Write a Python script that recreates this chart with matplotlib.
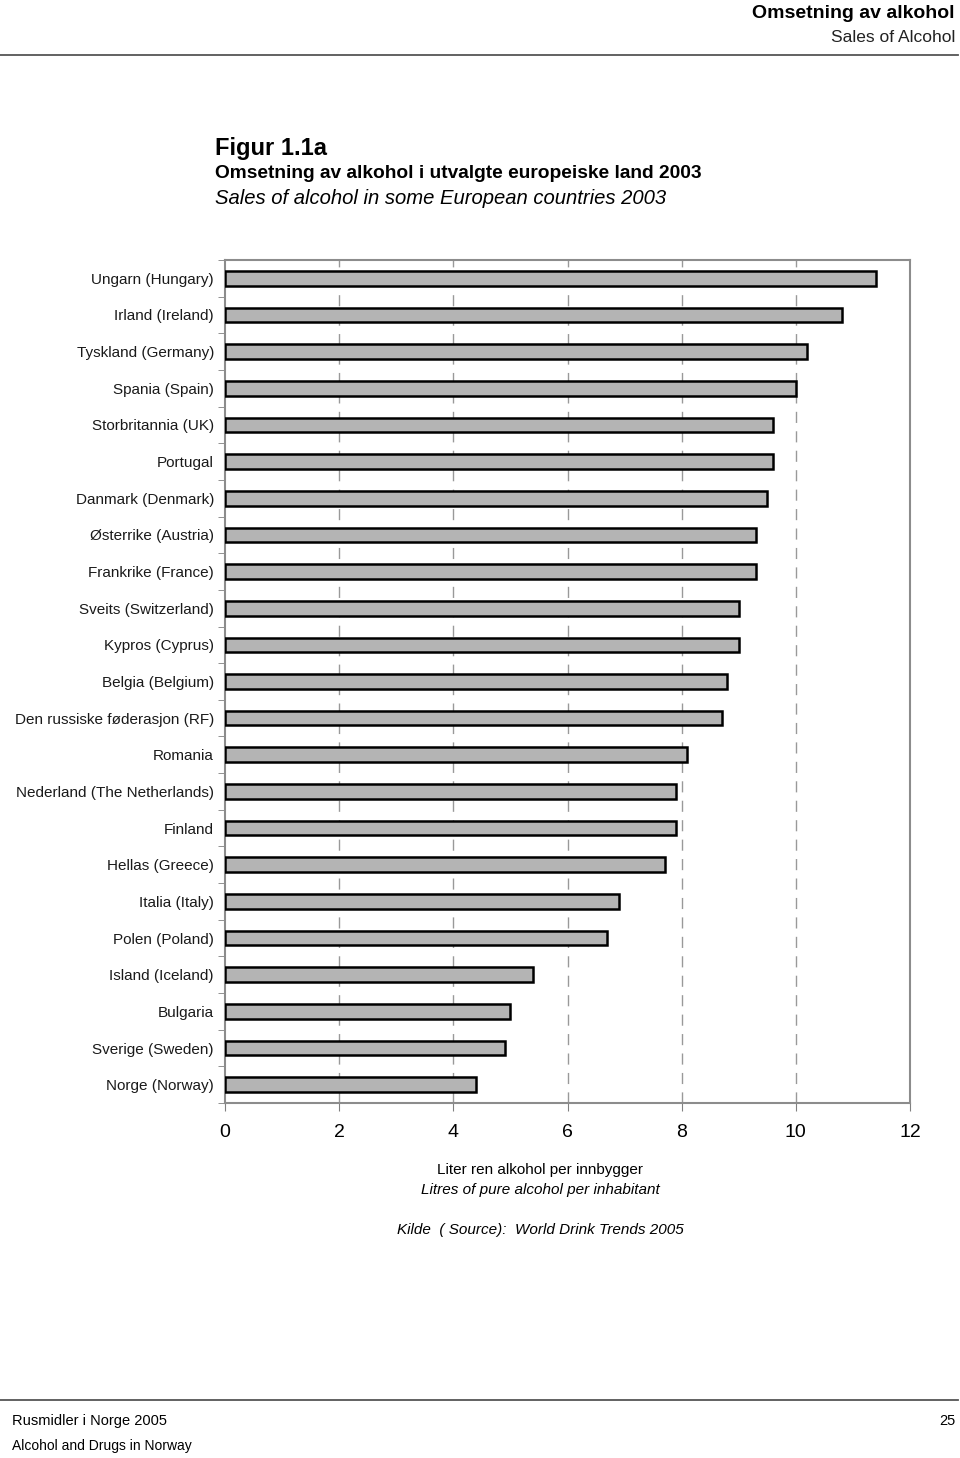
import matplotlib
matplotlib.use("Agg")
import matplotlib.pyplot as plt
import numpy as np

categories = [
    "Ungarn (Hungary)", "Irland (Ireland)", "Tyskland (Germany)", "Spania (Spain)",
    "Storbritannia (UK)", "Portugal", "Danmark (Denmark)", "Østerrike (Austria)",
    "Frankrike (France)", "Sveits (Switzerland)", "Kypros (Cyprus)", "Belgia (Belgium)",
    "Den russiske føderasjon (RF)", "Romania", "Nederland (The Netherlands)", "Finland",
    "Hellas (Greece)", "Italia (Italy)", "Polen (Poland)", "Island (Iceland)",
    "Bulgaria", "Sverige (Sweden)", "Norge (Norway)",
]
values = [11.4, 10.8, 10.2, 10.0, 9.6, 9.6, 9.5, 9.3, 9.3, 9.0, 9.0, 8.8,
          8.7, 8.1, 7.9, 7.9, 7.7, 6.9, 6.7, 5.4, 5.0, 4.9, 4.4]
xticks = [0, 2, 4, 6, 8, 10, 12]

SANS = ["Liberation Sans", "DejaVu Sans"]
COND = ["Liberation Sans", "DejaVu Sans"]

fig = plt.figure(figsize=(9.6, 14.58), dpi=100)
W, H = 960, 1458

def fx(px):
    return px / W

def fy(py):
    return 1 - py / H

# header
fig.text(fx(955), fy(13), "Omsetning av alkohol", ha="right", va="center",
         fontsize=14, fontweight="bold", family=COND)
fig.text(fx(955), fy(38), "Sales of Alcohol", ha="right", va="center",
         fontsize=12.5, family=COND, color="#222222")
fig.add_artist(plt.Line2D([fx(0), fx(958)], [fy(55), fy(55)], color="#555555", lw=1.3,
                          transform=fig.transFigure))

# titles
fig.text(fx(215), fy(148), "Figur 1.1a", ha="left", va="center",
         fontsize=17, fontweight="bold", family=SANS)
fig.text(fx(215), fy(174), "Omsetning av alkohol i utvalgte europeiske land 2003",
         ha="left", va="center", fontsize=13.8, fontweight="bold", family=SANS)
fig.text(fx(215), fy(198), "Sales of alcohol in some European countries 2003",
         ha="left", va="center", fontsize=14.6, fontstyle="italic", family=SANS)

# axes
ax = fig.add_axes([fx(225), fy(1103), fx(910) - fx(225), fy(260) - fy(1103)])
y = np.arange(len(categories))
ax.barh(y, values, height=0.40, color="#b4b4b4", edgecolor="black", linewidth=1.8,
        zorder=3)
ax.set_ylim(len(categories) - 0.5, -0.5)
ax.set_xlim(0, 12)
ax.set_yticks(y)
ax.set_yticklabels(categories, family=SANS, fontsize=11, color="#1a1a1a")
ax.tick_params(axis="y", length=0, pad=8)
ax.set_yticks(np.arange(-0.5, len(categories) + 0.5, 1), minor=True)
ax.tick_params(axis="y", which="minor", length=5, color="#808080", direction="out")
ax.set_xticks(xticks)
ax.set_xticklabels([str(t) for t in xticks], family=SANS, fontsize=14)
ax.tick_params(axis="x", length=6, color="#808080", direction="out", pad=9)
for xv in xticks[1:-1]:
    ax.axvline(xv, color="#999999", lw=1.0, ls=(0, (8, 6)), zorder=1)
for s in ax.spines.values():
    s.set_color("#8c8c8c")
    s.set_linewidth(1.5)

# axis labels / source
fig.text(fx(540), fy(1170), "Liter ren alkohol per innbygger", ha="center", va="center",
         fontsize=11, family=SANS)
fig.text(fx(540), fy(1190), "Litres of pure alcohol per inhabitant", ha="center",
         va="center", fontsize=11, fontstyle="italic", family=SANS)
fig.text(fx(540), fy(1230), "Kilde  ( Source):  World Drink Trends 2005", ha="center",
         va="center", fontsize=11, fontstyle="italic", family=SANS)

# footer
fig.add_artist(plt.Line2D([fx(0), fx(958)], [fy(1400), fy(1400)], color="#555555", lw=1.3,
                          transform=fig.transFigure))
fig.text(fx(12), fy(1421), "Rusmidler i Norge 2005", ha="left", va="center",
         fontsize=10.5, family=COND)
fig.text(fx(12), fy(1446), "Alcohol and Drugs in Norway", ha="left", va="center",
         fontsize=10, family=COND)
fig.text(fx(955), fy(1421), "25", ha="right", va="center",
         fontsize=10.5, family=COND)

fig.savefig("out.png", dpi=100)
